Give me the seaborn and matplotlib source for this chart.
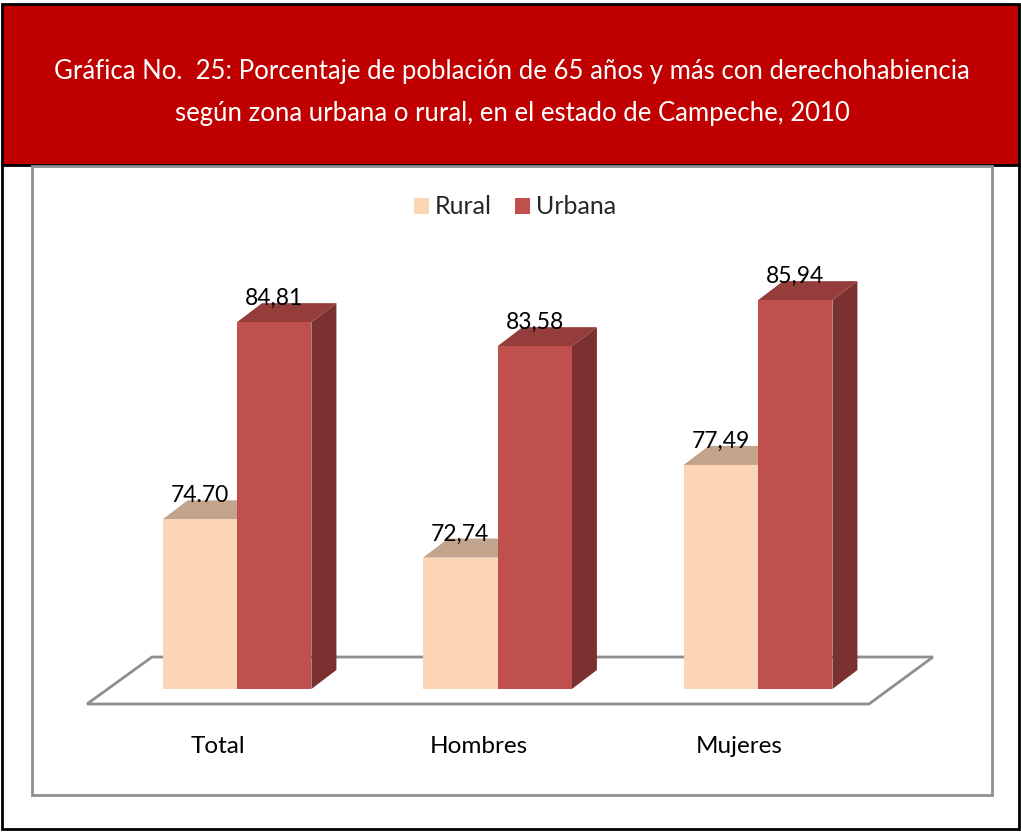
import pandas as pd
import numpy as np
import matplotlib.pyplot as plt
import seaborn as sns
from matplotlib.patches import Polygon, Rectangle, Patch

# datos
categorias = ["Total", "Hombres", "Mujeres"]
zonas = ["Rural", "Urbana"]
rural = [74.70, 72.74, 77.49]
urbana = [84.81, 83.58, 85.94]
etiquetas_rural = ["74.70", "72,74", "77,49"]
etiquetas_urbana = ["84,81", "83,58", "85,94"]

df = pd.DataFrame({
    "Zona": ["Rural"] * 3 + ["Urbana"] * 3,
    "Grupo": categorias * 2,
    "Porcentaje": rural + urbana,
})

titulo = ("Gráfica No.  25: Porcentaje de población de 65 años y más con derechohabiencia\n"
          "según zona urbana o rural, en el estado de Campeche, 2010")

frente = {"Rural": "#FCD5B5", "Urbana": "#C0504D"}
techo = {"Rural": "#C2A38B", "Urbana": "#943D3B"}
lado = {"Rural": "#B0917A", "Urbana": "#7B3130"}

sns.set_theme(style="white")
plt.rcParams['font.family'] = ['Lato', 'DejaVu Sans']

W, H = 1021, 832
fig = plt.figure(figsize=(W / 100, H / 100), dpi=100)


def fx(px):
    return px / W


def fy(py):
    return 1 - py / H


# marcos
fig.patches.append(Rectangle((fx(2), fy(165)), fx(1019) - fx(2), fy(4) - fy(165),
                             transform=fig.transFigure, facecolor="#C00000",
                             edgecolor="black", lw=2, zorder=-2))
fig.patches.append(Rectangle((fx(2), fy(829)), fx(1019) - fx(2), fy(165) - fy(829),
                             transform=fig.transFigure, facecolor="white",
                             edgecolor="black", lw=2, zorder=-2))
fig.patches.append(Rectangle((fx(32), fy(795)), fx(992) - fx(32), fy(166) - fy(795),
                             transform=fig.transFigure, facecolor="none",
                             edgecolor="#8f8f8f", lw=2, zorder=-1))

fig.text(fx(512), fy(93), titulo, ha="center", va="center", color="white",
         fontsize=18.5, linespacing=1.85)

# ejes: base de las barras en y=66
ax = fig.add_axes([fx(32), fy(689), fx(992) - fx(32), fy(165) - fy(689)])
ax.patch.set_alpha(0)
sns.barplot(data=df, x="Grupo", y="Porcentaje", hue="Zona", hue_order=zonas,
            palette=[frente[z] for z in zonas], width=0.571, saturation=1,
            errorbar=None, linewidth=0, ax=ax)
ax.set_xlim(-0.787, 2.898)
ax.set_ylim(66, 92.87)
ax.set_axis_off()

inv = ax.transData.inverted()


def px2data(dx, dy):
    p0 = inv.transform((0, 0))
    p1 = inv.transform((dx, dy))
    return p1[0] - p0[0], p1[1] - p0[1]


ddx, ddy = px2data(25, 19)
base = ax.get_ylim()[0]

for zona, cont, etiquetas in zip(zonas, ax.containers, [etiquetas_rural, etiquetas_urbana]):
    for bar, txt in zip(cont, etiquetas):
        x, w, top = bar.get_x(), bar.get_width(), bar.get_height()
        bar.set_zorder(2)
        ax.add_patch(Polygon([(x + w, base), (x + w + ddx, base + ddy),
                              (x + w + ddx, top + ddy), (x + w, top)],
                             closed=True, facecolor=lado[zona], lw=0, zorder=1))
        ax.add_patch(Polygon([(x, top), (x + ddx, top + ddy),
                              (x + w + ddx, top + ddy), (x + w, top)],
                             closed=True, facecolor=techo[zona], lw=0, zorder=1))
        ax.annotate(txt, (x + w / 2, top), xytext=(0, 17), textcoords="offset points",
                    ha="center", va="center", fontsize=16.5, color="black")

# piso
piso_px = [(87, 704), (869, 704), (933, 657), (152, 657)]
piso = [inv.transform((px, H - py)) for px, py in piso_px]
ax.add_patch(Polygon(piso, closed=True, facecolor="white", edgecolor="#8f8f8f",
                     lw=2, zorder=0.5, clip_on=False))

# etiquetas de categorías
for i, cat in enumerate(categorias):
    ax.annotate(cat, (i, base), xytext=(-13.7, -41.5), textcoords="offset points",
                ha="center", va="center", fontsize=17.5, color="black", annotation_clip=False)

handles = [Patch(facecolor=frente[z], edgecolor="none") for z in zonas]
ax.legend(handles, zonas, loc="center", bbox_to_anchor=(fx(515), fy(207)),
          bbox_transform=fig.transFigure, ncol=2, frameon=False, fontsize=18,
          handlelength=0.6, handleheight=0.6, handletextpad=0.25, columnspacing=0.9)

fig.savefig("out.png", dpi=100)
